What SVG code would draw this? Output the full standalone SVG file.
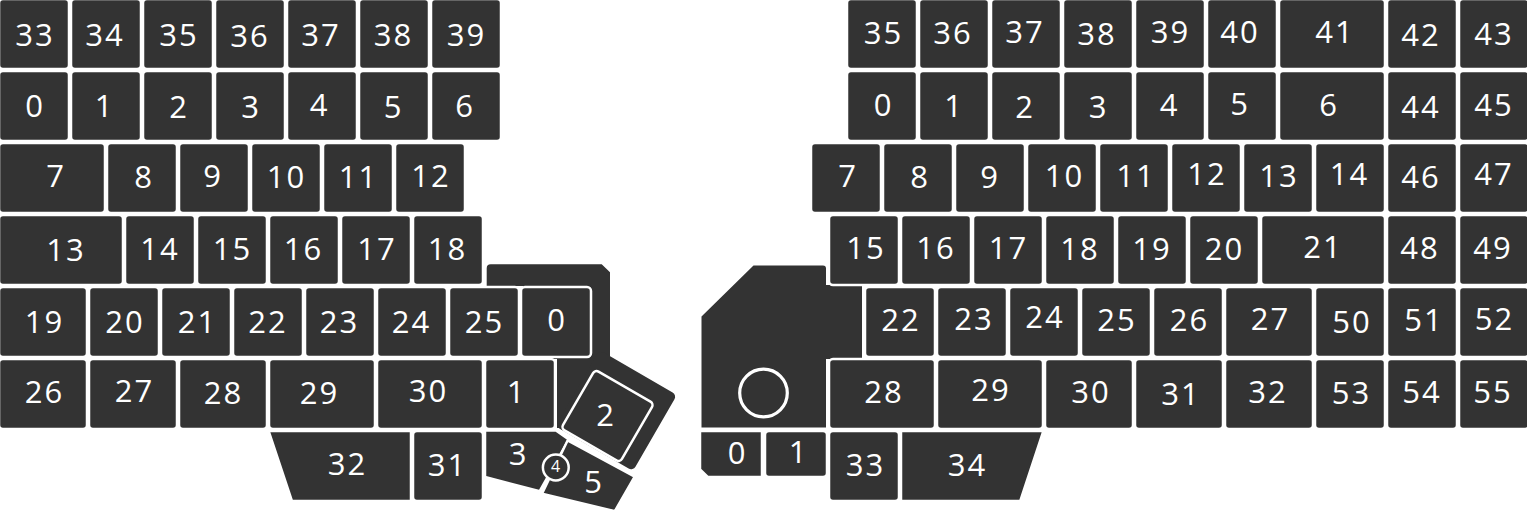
<svg xmlns="http://www.w3.org/2000/svg" width="1527" height="513" viewBox="0 0 1527 513">
<style>
.k{fill:#333;stroke:#fff;stroke-width:2.5;stroke-linejoin:round}
.bg{fill:#333}
.t{fill:#fff;font-family:"Open Sans","Noto Sans",sans-serif;font-size:31px;text-anchor:middle;letter-spacing:2px}
.s{fill:#fff;font-family:"Open Sans","Noto Sans",sans-serif;font-size:16px;text-anchor:middle}
</style>
<rect width="1527" height="513" fill="#fff"/>
<g id="left-half">
<g id="left-thumb-base">
<path class="bg" d="M486.7,268.3 Q486.7,264.3 490.7,264.3 H601.7 L610,272.3 V428 H557 V359 H523 V286 H486.7 Z"/>
<rect class="bg" x="-40" y="-53" width="89.6" height="88" rx="5" transform="translate(607.5 416) rotate(30)"/>
</g>
<g id="L33"><rect class="k" x="-1" y="-1" width="70" height="70" rx="4"/><text class="t" x="35" y="46">33</text></g>
<g id="L34"><rect class="k" x="71" y="-1" width="70" height="70" rx="4"/><text class="t" x="105" y="46">34</text></g>
<g id="L35"><rect class="k" x="143" y="-1" width="70" height="70" rx="4"/><text class="t" x="179" y="46">35</text></g>
<g id="L36"><rect class="k" x="215" y="-1" width="70" height="70" rx="4"/><text class="t" x="250" y="46.5">36</text></g>
<g id="L37"><rect class="k" x="287" y="-1" width="70" height="70" rx="4"/><text class="t" x="321" y="45.5">37</text></g>
<g id="L38"><rect class="k" x="359" y="-1" width="70" height="70" rx="4"/><text class="t" x="393.5" y="46">38</text></g>
<g id="L39"><rect class="k" x="431" y="-1" width="70" height="70" rx="4"/><text class="t" x="466.5" y="45.5">39</text></g>

<g id="L0"><rect class="k" x="-1" y="71" width="70" height="70" rx="4"/><text class="t" x="35" y="117">0</text></g>
<g id="L1"><rect class="k" x="71" y="71" width="70" height="70" rx="4"/><text class="t" x="104.5" y="117">1</text></g>
<g id="L2"><rect class="k" x="143" y="71" width="70" height="70" rx="4"/><text class="t" x="179" y="117.5">2</text></g>
<g id="L3"><rect class="k" x="215" y="71" width="70" height="70" rx="4"/><text class="t" x="251" y="118">3</text></g>
<g id="L4"><rect class="k" x="287" y="71" width="70" height="70" rx="4"/><text class="t" x="319.5" y="116">4</text></g>
<g id="L5"><rect class="k" x="359" y="71" width="70" height="70" rx="4"/><text class="t" x="393.5" y="117.5">5</text></g>
<g id="L6"><rect class="k" x="431" y="71" width="70" height="70" rx="4"/><text class="t" x="465" y="117">6</text></g>

<g id="L7"><rect class="k" x="-1" y="143" width="106" height="70" rx="4"/><text class="t" x="56" y="187">7</text></g>
<g id="L8"><rect class="k" x="107" y="143" width="70" height="70" rx="4"/><text class="t" x="144" y="187.5">8</text></g>
<g id="L9"><rect class="k" x="179" y="143" width="70" height="70" rx="4"/><text class="t" x="213" y="187">9</text></g>
<g id="L10"><rect class="k" x="251" y="143" width="70" height="70" rx="4"/><text class="t" x="286.5" y="187.5">10</text></g>
<g id="L11"><rect class="k" x="323" y="143" width="70" height="70" rx="4"/><text class="t" x="358.5" y="187.5">11</text></g>
<g id="L12"><rect class="k" x="395" y="143" width="70" height="70" rx="4"/><text class="t" x="431" y="187">12</text></g>

<g id="L13"><rect class="k" x="-1" y="215" width="124" height="70" rx="4"/><text class="t" x="66" y="260.5">13</text></g>
<g id="L14"><rect class="k" x="125" y="215" width="70" height="70" rx="4"/><text class="t" x="160" y="260">14</text></g>
<g id="L15"><rect class="k" x="197" y="215" width="70" height="70" rx="4"/><text class="t" x="232.5" y="260">15</text></g>
<g id="L16"><rect class="k" x="269" y="215" width="70" height="70" rx="4"/><text class="t" x="303.5" y="260">16</text></g>
<g id="L17"><rect class="k" x="341" y="215" width="70" height="70" rx="4"/><text class="t" x="377" y="260">17</text></g>
<g id="L18"><rect class="k" x="413" y="215" width="70" height="70" rx="4"/><text class="t" x="447.5" y="260">18</text></g>

<g id="L19"><rect class="k" x="-1" y="287" width="88" height="70" rx="4"/><text class="t" x="44.5" y="333">19</text></g>
<g id="L20"><rect class="k" x="89" y="287" width="70" height="70" rx="4"/><text class="t" x="125" y="333">20</text></g>
<g id="L21"><rect class="k" x="161" y="287" width="70" height="70" rx="4"/><text class="t" x="197.5" y="333">21</text></g>
<g id="L22"><rect class="k" x="233" y="287" width="70" height="70" rx="4"/><text class="t" x="268" y="333">22</text></g>
<g id="L23"><rect class="k" x="305" y="287" width="70" height="70" rx="4"/><text class="t" x="339.5" y="333">23</text></g>
<g id="L24"><rect class="k" x="377" y="287" width="70" height="70" rx="4"/><text class="t" x="411.5" y="333">24</text></g>
<g id="L25"><rect class="k" x="449" y="287" width="70" height="70" rx="4"/><text class="t" x="484.5" y="333">25</text></g>

<g id="L26"><rect class="k" x="-1" y="359" width="88" height="70" rx="4"/><text class="t" x="44.5" y="402.5">26</text></g>
<g id="L27"><rect class="k" x="89" y="359" width="88" height="70" rx="4"/><text class="t" x="134.5" y="402">27</text></g>
<g id="L28"><rect class="k" x="179" y="359" width="88" height="70" rx="4"/><text class="t" x="223.5" y="403.5">28</text></g>
<g id="L29"><rect class="k" x="269" y="359" width="106" height="70" rx="4"/><text class="t" x="319.5" y="403.5">29</text></g>
<g id="L30"><rect class="k" x="377" y="359" width="106" height="70" rx="4"/><text class="t" x="428.5" y="402">30</text></g>

<g id="L32"><path class="k" d="M268.6,431 H411 V501 H291.9 Z"/><text class="t" x="347.5" y="475">32</text></g>
<g id="L31"><rect class="k" x="413" y="431" width="70" height="70" rx="4"/><text class="t" x="447.5" y="476">31</text></g>

<g id="LT0"><rect class="k" x="521" y="287" width="70" height="70" rx="4"/><text class="t" x="557" y="331">0</text></g>
<g id="LT1"><rect class="k" x="485" y="359" width="70" height="70" rx="4"/><text class="t" x="516.5" y="402.5">1</text></g>
<g id="LT2"><rect class="k" x="-34" y="-34" width="68" height="68" rx="4" transform="translate(607.5 416) rotate(30)"/><text class="t" x="606" y="426">2</text></g>
<g id="LT3"><path class="k" d="M485,430.5 H556 L568.8,439.6 L539.7,491.2 L485,477 Z"/><text class="t" x="518.5" y="465">3</text></g>
<g id="LT5"><path class="k" d="M567.6,440.5 L634.7,476.6 L614.9,511.1 L542,493.7 Z"/><text class="t" x="594" y="492.5">5</text></g>
<g id="LT4"><circle class="k" cx="555.8" cy="467.5" r="12.9" stroke-width="3"/><text class="s" x="555.5" y="472">4</text></g>
</g>

<g id="right-half">
<g id="right-thumb-base">
<path class="bg" d="M701.5,316.5 L753.5,265.5 H823 Q826,265.5 826,268.5 V285 H862 V359 H826 V427.5 H701.5 Z"/>
<circle cx="763.5" cy="393" r="23.8" fill="none" stroke="#fff" stroke-width="3.2"/>
</g>
<g id="R35"><rect class="k" x="847" y="-1" width="70" height="70" rx="4"/><text class="t" x="883.5" y="43.5">35</text></g>
<g id="R36"><rect class="k" x="919" y="-1" width="70" height="70" rx="4"/><text class="t" x="953" y="43.5">36</text></g>
<g id="R37"><rect class="k" x="991" y="-1" width="70" height="70" rx="4"/><text class="t" x="1025" y="42.5">37</text></g>
<g id="R38"><rect class="k" x="1063" y="-1" width="70" height="70" rx="4"/><text class="t" x="1097" y="44.5">38</text></g>
<g id="R39"><rect class="k" x="1135" y="-1" width="70" height="70" rx="4"/><text class="t" x="1170.5" y="42.5">39</text></g>
<g id="R40"><rect class="k" x="1207" y="-1" width="70" height="70" rx="4"/><text class="t" x="1240" y="42.5">40</text></g>
<g id="R41"><rect class="k" x="1279" y="-1" width="106" height="70" rx="4"/><text class="t" x="1335" y="42.5">41</text></g>
<g id="R42"><rect class="k" x="1387" y="-1" width="70" height="70" rx="4"/><text class="t" x="1421" y="46">42</text></g>
<g id="R43"><rect class="k" x="1459" y="-1" width="70" height="70" rx="4"/><text class="t" x="1494" y="44.5">43</text></g>

<g id="R0"><rect class="k" x="847" y="71" width="70" height="70" rx="4"/><text class="t" x="883.5" y="115.5">0</text></g>
<g id="R1"><rect class="k" x="919" y="71" width="70" height="70" rx="4"/><text class="t" x="954" y="117">1</text></g>
<g id="R2"><rect class="k" x="991" y="71" width="70" height="70" rx="4"/><text class="t" x="1025" y="117.5">2</text></g>
<g id="R3"><rect class="k" x="1063" y="71" width="70" height="70" rx="4"/><text class="t" x="1098.5" y="118">3</text></g>
<g id="R4"><rect class="k" x="1135" y="71" width="70" height="70" rx="4"/><text class="t" x="1169.5" y="115.5">4</text></g>
<g id="R5"><rect class="k" x="1207" y="71" width="70" height="70" rx="4"/><text class="t" x="1240" y="115">5</text></g>
<g id="R6"><rect class="k" x="1279" y="71" width="106" height="70" rx="4"/><text class="t" x="1329" y="116">6</text></g>
<g id="R44"><rect class="k" x="1387" y="71" width="70" height="70" rx="4"/><text class="t" x="1421" y="118">44</text></g>
<g id="R45"><rect class="k" x="1459" y="71" width="70" height="70" rx="4"/><text class="t" x="1494" y="116">45</text></g>

<g id="R7"><rect class="k" x="811" y="143" width="70" height="70" rx="4"/><text class="t" x="848" y="187">7</text></g>
<g id="R8"><rect class="k" x="883" y="143" width="70" height="70" rx="4"/><text class="t" x="920" y="187.5">8</text></g>
<g id="R9"><rect class="k" x="955" y="143" width="70" height="70" rx="4"/><text class="t" x="990" y="188">9</text></g>
<g id="R10"><rect class="k" x="1027" y="143" width="70" height="70" rx="4"/><text class="t" x="1064.5" y="187">10</text></g>
<g id="R11"><rect class="k" x="1099" y="143" width="70" height="70" rx="4"/><text class="t" x="1136" y="187">11</text></g>
<g id="R12"><rect class="k" x="1171" y="143" width="70" height="70" rx="4"/><text class="t" x="1207" y="185">12</text></g>
<g id="R13"><rect class="k" x="1243" y="143" width="70" height="70" rx="4"/><text class="t" x="1279" y="187">13</text></g>
<g id="R14"><rect class="k" x="1315" y="143" width="70" height="70" rx="4"/><text class="t" x="1349.5" y="185">14</text></g>
<g id="R46"><rect class="k" x="1387" y="143" width="70" height="70" rx="4"/><text class="t" x="1421" y="188">46</text></g>
<g id="R47"><rect class="k" x="1459" y="143" width="70" height="70" rx="4"/><text class="t" x="1494" y="185">47</text></g>

<g id="R15"><rect class="k" x="829" y="215" width="70" height="70" rx="4"/><text class="t" x="866" y="259">15</text></g>
<g id="R16"><rect class="k" x="901" y="215" width="70" height="70" rx="4"/><text class="t" x="936" y="259">16</text></g>
<g id="R17"><rect class="k" x="973" y="215" width="70" height="70" rx="4"/><text class="t" x="1008.5" y="259">17</text></g>
<g id="R18"><rect class="k" x="1045" y="215" width="70" height="70" rx="4"/><text class="t" x="1080" y="259.5">18</text></g>
<g id="R19"><rect class="k" x="1117" y="215" width="70" height="70" rx="4"/><text class="t" x="1152" y="260">19</text></g>
<g id="R20"><rect class="k" x="1189" y="215" width="70" height="70" rx="4"/><text class="t" x="1224.5" y="260">20</text></g>
<g id="R21"><rect class="k" x="1261" y="215" width="124" height="70" rx="4"/><text class="t" x="1323" y="258">21</text></g>
<g id="R48"><rect class="k" x="1387" y="215" width="70" height="70" rx="4"/><text class="t" x="1420" y="259">48</text></g>
<g id="R49"><rect class="k" x="1459" y="215" width="70" height="70" rx="4"/><text class="t" x="1493" y="259">49</text></g>

<g id="R22"><rect class="k" x="865" y="287" width="70" height="70" rx="4"/><text class="t" x="901" y="331">22</text></g>
<g id="R23"><rect class="k" x="937" y="287" width="70" height="70" rx="4"/><text class="t" x="974" y="330">23</text></g>
<g id="R24"><rect class="k" x="1009" y="287" width="70" height="70" rx="4"/><text class="t" x="1045" y="328">24</text></g>
<g id="R25"><rect class="k" x="1081" y="287" width="70" height="70" rx="4"/><text class="t" x="1117" y="331">25</text></g>
<g id="R26"><rect class="k" x="1153" y="287" width="70" height="70" rx="4"/><text class="t" x="1189.5" y="331">26</text></g>
<g id="R27"><rect class="k" x="1225" y="287" width="88" height="70" rx="4"/><text class="t" x="1270.5" y="329.5">27</text></g>
<g id="R50"><rect class="k" x="1315" y="287" width="70" height="70" rx="4"/><text class="t" x="1352" y="332.5">50</text></g>
<g id="R51"><rect class="k" x="1387" y="287" width="70" height="70" rx="4"/><text class="t" x="1424" y="331">51</text></g>
<g id="R52"><rect class="k" x="1459" y="287" width="70" height="70" rx="4"/><text class="t" x="1494.5" y="330">52</text></g>

<g id="R28"><rect class="k" x="829" y="359" width="106" height="70" rx="4"/><text class="t" x="884" y="402.5">28</text></g>
<g id="R29"><rect class="k" x="937" y="359" width="106" height="70" rx="4"/><text class="t" x="991" y="401">29</text></g>
<g id="R30"><rect class="k" x="1045" y="359" width="88" height="70" rx="4"/><text class="t" x="1091" y="402.5">30</text></g>
<g id="R31"><rect class="k" x="1135" y="359" width="88" height="70" rx="4"/><text class="t" x="1181" y="404.5">31</text></g>
<g id="R32"><rect class="k" x="1225" y="359" width="88" height="70" rx="4"/><text class="t" x="1268" y="402.5">32</text></g>
<g id="R53"><rect class="k" x="1315" y="359" width="70" height="70" rx="4"/><text class="t" x="1351.5" y="404">53</text></g>
<g id="R54"><rect class="k" x="1387" y="359" width="70" height="70" rx="4"/><text class="t" x="1422" y="403">54</text></g>
<g id="R55"><rect class="k" x="1459" y="359" width="70" height="70" rx="4"/><text class="t" x="1493" y="402.5">55</text></g>

<g id="R33"><rect class="k" x="829" y="431" width="70" height="70" rx="4"/><text class="t" x="865.5" y="475.5">33</text></g>
<g id="R34"><path class="k" d="M901,431 H1043.4 L1020.3,501 H901 Z"/><text class="t" x="967.5" y="476">34</text></g>

<g id="RT0"><path class="k" d="M700,431 H762 V477 H707.7 L700,469.3 Z"/><text class="t" x="737.5" y="463.5">0</text></g>
<g id="RT1"><rect class="k" x="765" y="431" width="62" height="46" rx="4"/><text class="t" x="798.5" y="463">1</text></g>
</g>
</svg>
